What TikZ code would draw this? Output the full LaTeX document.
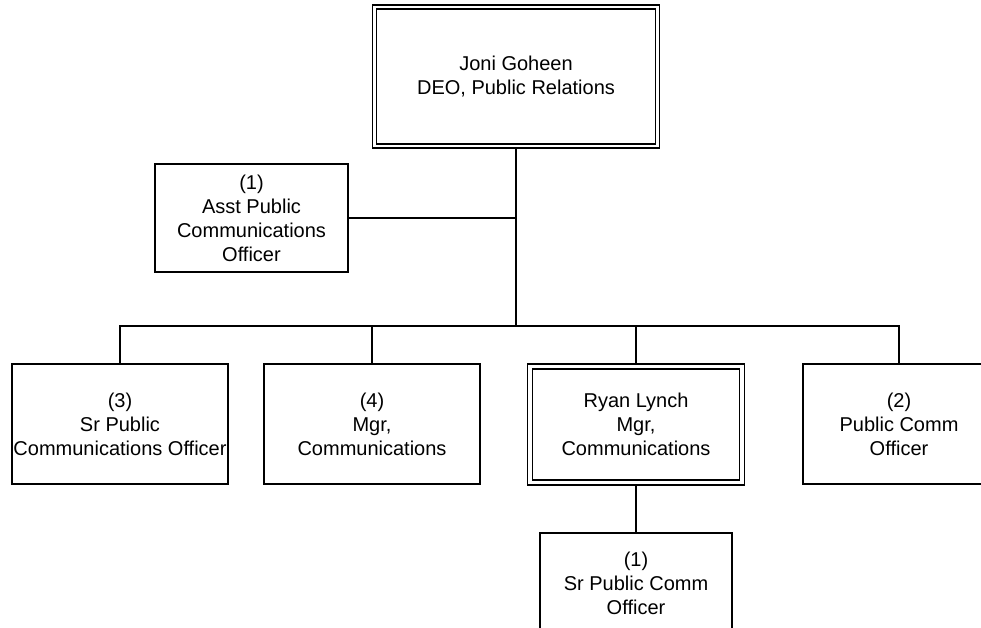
\documentclass[tikz,border=0pt]{standalone}
\usepackage{fontspec}
\setmainfont{Liberation Sans}
\begin{document}
\begin{tikzpicture}[x=1pt,y=-1pt,
  box/.style={draw=black, line width=1.6pt, rectangle, inner sep=0pt, outer sep=0pt, align=center, font=\fontsize{20}{24}\selectfont},
  dbox/.style={box, line width=1.4pt, double, double distance=2.6pt},
  conn/.style={draw=black, line width=1.8pt}]
\useasboundingbox (0,0) rectangle (981,627);
\clip (0,0) rectangle (981,627);
\node[dbox, outer sep=2.7pt, minimum width=283pt, minimum height=139pt] (ceo) at (516,76.5) {Joni Goheen\\DEO, Public Relations};
\node[box, minimum width=193pt, minimum height=108pt] (asst) at (251.5,218) {(1)\\Asst Public\\Communications\\Officer};
\node[box, minimum width=216pt, minimum height=120pt] (srpco) at (120,424) {(3)\\Sr Public\\Communications Officer};
\node[box, minimum width=216pt, minimum height=120pt] (mgr) at (372,424) {(4)\\Mgr,\\Communications};
\node[dbox, outer sep=3.2pt, line width=1.5pt, double distance=3.4pt, minimum width=212pt, minimum height=116pt] (ryan) at (636,424.5) {Ryan Lynch\\Mgr,\\Communications};
\node[box, minimum width=192pt, minimum height=120pt] (pco) at (899,424) {(2)\\Public Comm\\Officer};
\node[box, minimum width=192pt, minimum height=100pt] (srpc) at (636,583) {(1)\\Sr Public Comm\\Officer};
\coordinate (busmid) at (516,326);
\draw[conn] (ceo.south) -- (busmid);
\draw[conn] (asst.east) -- (asst.east -| busmid);
\draw[conn] (srpco.north) |- (busmid) -| (pco.north);
\draw[conn] (mgr.north) -- (mgr.north |- busmid);
\draw[conn] (ryan.north) -- (ryan.north |- busmid);
\draw[conn] (ryan.south) -- (srpc.north);
\end{tikzpicture}
\end{document}
